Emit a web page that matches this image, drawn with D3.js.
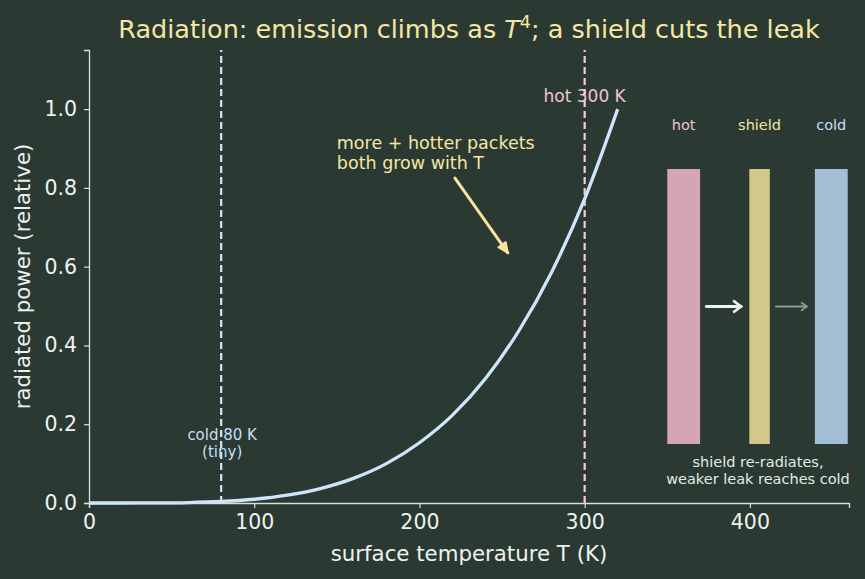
<!DOCTYPE html>
<html>
<head>
<meta charset="utf-8">
<script src="https://cdn.jsdelivr.net/npm/d3@7"></script>
<style>
  body { margin: 0; background: #2a3a33; }
  svg { display: block; font-family: "DejaVu Sans", sans-serif; }
</style>
</head>
<body>
<div id="chart"></div>
<script>
// emission curve (relative power vs temperature)
const temps = [0, 20, 40, 60, 80, 100, 120, 140, 160, 180, 200, 220, 240, 260, 280, 300, 320];
const power = [0, 0.00002, 0.0002, 0.0012, 0.0039, 0.0095, 0.0198, 0.0366, 0.0625, 0.100, 0.153, 0.223, 0.316, 0.436, 0.586, 0.772, 1.0];

const xTicks = [0, 100, 200, 300, 400];
const yTicks = [0, 0.2, 0.4, 0.6, 0.8, 1.0];

const coldT = 80, hotT = 300;

// inset: three plates and the two flux arrows
const plates = ["hot", "shield", "cold"];
const plateColors = ["#d4a6b5", "#d4c78a", "#a3bfd6"];
const labelColors = ["#f2c4d0", "#f3e4a0", "#c9def2"];
const fluxColors = ["#eef5ee", "#8a9a90"];

const W = 865, H = 579;
const m = { left: 89, right: 16, top: 50, bottom: 76 };

const svg = d3.select("#chart").append("svg")
  .attr("width", W).attr("height", H);
svg.append("rect").attr("width", W).attr("height", H).attr("fill", "#2a3a33");

const x = d3.scaleLinear().domain([0, 460]).range([m.left, W - m.right]);
const y = d3.scaleLinear().domain([0, 1.15]).range([H - m.bottom, m.top]);

const axisCol = "#d8e0d8";

// axes
const gx = svg.append("g").attr("transform", `translate(0,${y(0)})`)
  .call(d3.axisBottom(x).tickValues(xTicks).tickSize(5).tickPadding(6));
const gy = svg.append("g").attr("transform", `translate(${m.left},0)`)
  .call(d3.axisLeft(y).tickValues(yTicks).tickFormat(d3.format(".1f")).tickSize(5).tickPadding(7));
[gx, gy].forEach(g => {
  g.select(".domain").attr("stroke", axisCol).attr("stroke-width", 1.3);
  g.selectAll(".tick line").attr("stroke", axisCol).attr("stroke-width", 1.2);
  g.selectAll(".tick text").attr("fill", "#eef2ee").style("font-size", "20.5px")
    .style("font-family", "DejaVu Sans, sans-serif");
});

// axis labels
svg.append("text").attr("x", x(230)).attr("y", 561).attr("text-anchor", "middle")
  .attr("fill", "#eef2ee").style("font-size", "21.3px").text("surface temperature T (K)");
svg.append("text").attr("transform", `translate(30,${y(0.575)}) rotate(-90)`)
  .attr("text-anchor", "middle").attr("fill", "#eef2ee").style("font-size", "21.3px")
  .text("radiated power (relative)");

// title
const title = svg.append("text").attr("x", x(230)).attr("y", 38).attr("text-anchor", "middle")
  .attr("fill", "#f6e6a2").style("font-size", "25.5px");
title.append("tspan").text("Radiation: emission climbs as ");
title.append("tspan").attr("font-style", "italic").text("T");
title.append("tspan").attr("dy", -10).style("font-size", "17.5px").text("4");
title.append("tspan").attr("dy", 10).text("; a shield cuts the leak");

// reference temperature lines
svg.append("line").attr("x1", x(coldT)).attr("x2", x(coldT)).attr("y1", y(0)).attr("y2", m.top)
  .attr("stroke", "#cfe6ff").attr("stroke-width", 2.2).attr("stroke-dasharray", "7,4");
svg.append("line").attr("x1", x(hotT)).attr("x2", x(hotT)).attr("y1", y(0)).attr("y2", m.top)
  .attr("stroke", "#ffc8d6").attr("stroke-width", 2.2).attr("stroke-dasharray", "7,4");

// curve
svg.append("path").datum(temps.map((t, i) => [t, power[i]]))
  .attr("fill", "none").attr("stroke", "#cde6fb").attr("stroke-width", 3.3)
  .attr("d", d3.line().x(d => x(d[0])).y(d => y(d[1])).curve(d3.curveMonotoneX));

// labels on the lines
const coldLab = svg.append("text").attr("y", 440).attr("text-anchor", "middle")
  .attr("fill", "#c9def2").style("font-size", "15px");
coldLab.append("tspan").attr("x", x(coldT) + 1).text("cold 80 K");
coldLab.append("tspan").attr("x", x(coldT) + 1).attr("dy", 17).text("(tiny)");
svg.append("text").attr("x", x(hotT)).attr("y", 102).attr("text-anchor", "middle")
  .attr("fill", "#f2c4d0").style("font-size", "17px").text("hot 300 K");

// annotation
const note = svg.append("text").attr("y", 149)
  .attr("fill", "#f6e6a2").style("font-size", "17.5px");
note.append("tspan").attr("x", x(150)).text("more + hotter packets");
note.append("tspan").attr("x", x(150)).attr("dy", 20).text("both grow with T");

const ax0 = [x(221.5), y(0.825)], ax1 = [x(253.5), y(0.635)];
svg.append("line").attr("x1", ax0[0]).attr("y1", ax0[1]).attr("x2", ax1[0]).attr("y2", ax1[1])
  .attr("stroke", "#f8e3a0").attr("stroke-width", 3).attr("stroke-linecap", "round");
(function head() {
  const ang = Math.atan2(ax1[1] - ax0[1], ax1[0] - ax0[0]);
  const L = 11;
  const pts = [[ax1[0], ax1[1]],
    [ax1[0] - L * Math.cos(ang - 0.42), ax1[1] - L * Math.sin(ang - 0.42)],
    [ax1[0] - L * Math.cos(ang + 0.42), ax1[1] - L * Math.sin(ang + 0.42)]];
  svg.append("path").attr("d", d3.line()(pts) + "Z")
    .attr("fill", "#f8e3a0").attr("stroke", "#f8e3a0").attr("stroke-width", 2)
    .attr("stroke-linejoin", "round");
})();

// inset diagram
const ix = d3.scaleLinear().domain([0, 1]).range([655, 860]);
const iy = d3.scaleLinear().domain([0, 1]).range([444, 169]);
const plateX = [0.06, 0.46, 0.78];
const plateW = [0.16, 0.10, 0.16];
plates.forEach((p, i) => {
  svg.append("rect").attr("x", ix(plateX[i])).attr("width", ix(plateX[i] + plateW[i]) - ix(plateX[i]))
    .attr("y", iy(1)).attr("height", iy(0) - iy(1)).attr("fill", plateColors[i]);
  svg.append("text").attr("x", ix(plateX[i] + plateW[i] / 2)).attr("y", 130).attr("text-anchor", "middle")
    .attr("fill", labelColors[i]).style("font-size", "14.5px").text(p);
});

const fluxes = [[0.25, 0.42, 2.8, 7], [0.59, 0.74, 1.8, 5]];
fluxes.forEach((f, i) => {
  const yy = iy(0.5), x0 = ix(f[0]), x1 = ix(f[1]);
  svg.append("line").attr("x1", x0).attr("x2", x1).attr("y1", yy).attr("y2", yy)
    .attr("stroke", fluxColors[i]).attr("stroke-width", f[2]).attr("stroke-linecap", "round");
  [-1, 1].forEach(s => {
    svg.append("line").attr("x1", x1).attr("y1", yy).attr("x2", x1 - f[3]).attr("y2", yy + s * f[3] * 0.75)
      .attr("stroke", fluxColors[i]).attr("stroke-width", f[2]).attr("stroke-linecap", "round");
  });
});

const cap = svg.append("text").attr("text-anchor", "middle").attr("y", 467)
  .attr("fill", "#e2ebe4").style("font-size", "14.5px");
cap.append("tspan").attr("x", 758).text("shield re-radiates,");
cap.append("tspan").attr("x", 758).attr("dy", 17).text("weaker leak reaches cold");
</script>
</body>
</html>
